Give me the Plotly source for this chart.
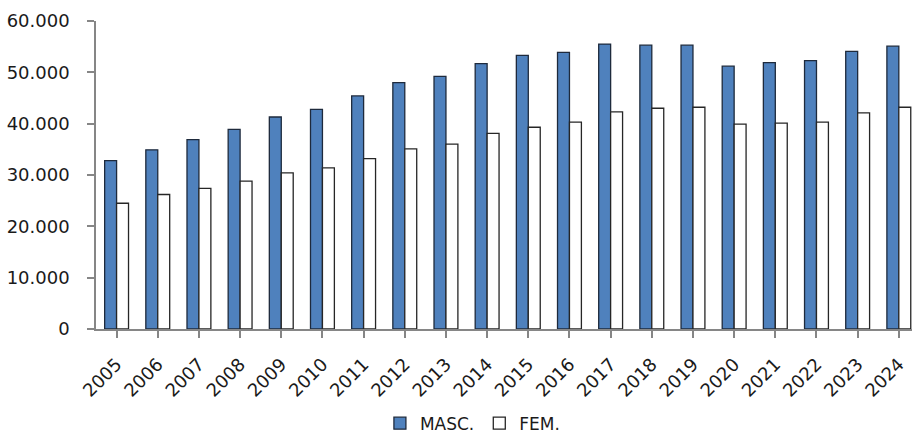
import plotly.graph_objects as go

years = ["2005", "2006", "2007", "2008", "2009", "2010", "2011", "2012", "2013", "2014",
         "2015", "2016", "2017", "2018", "2019", "2020", "2021", "2022", "2023", "2024"]
masc = [32800, 34900, 36900, 38900, 41300, 42800, 45400, 48000, 49200, 51700,
        53300, 53900, 55500, 55300, 55300, 51200, 51900, 52300, 54100, 55100]
fem = [24500, 26200, 27400, 28800, 30400, 31400, 33200, 35100, 36000, 38100,
       39300, 40300, 42300, 43000, 43200, 39900, 40100, 40300, 42100, 43200]
y_ticks = [0, 10000, 20000, 30000, 40000, 50000, 60000]

FONT = "DejaVu Sans, Liberation Sans, sans-serif"

fig = go.Figure()
fig.add_trace(go.Bar(
    x=list(range(len(years))), y=masc, name="MASC.",
    marker=dict(color="#4F81BD", line=dict(color="#1e2a3c", width=1.3)),
))
fig.add_trace(go.Bar(
    x=list(range(len(years))), y=fem, name="FEM.",
    marker=dict(color="#FFFFFF", line=dict(color="#262626", width=1.3)),
))

fig.update_layout(
    width=912, height=434,
    margin=dict(l=96, r=0, t=21, b=105),
    paper_bgcolor="white", plot_bgcolor="white",
    barmode="group", bargap=0.42, bargroupgap=0,
    separators=",.",
    font=dict(family=FONT, color="#1a1a1a"),
    showlegend=True,
    legend=dict(
        orientation="h", xref="container", yref="container",
        x=0.518, xanchor="center", y=0.024, yanchor="middle",
        font=dict(size=17, family=FONT, color="#1a1a1a"),
        traceorder="normal", itemwidth=30,
    ),
)
fig.update_xaxes(
    range=[-0.5, 19.32],
    tickmode="array", tickvals=list(range(len(years))), ticktext=years,
    tickangle=-45, tickfont=dict(size=18, family=FONT, color="#1a1a1a"),
    ticklabelstandoff=9,
    showline=True, linecolor="#868686", linewidth=1.5,
    ticks="outside", ticklen=7, tickcolor="#868686", tickwidth=1.5,
    tickson="boundaries", showgrid=False, zeroline=False, fixedrange=True,
)
fig.update_yaxes(
    range=[0, 60000], tickmode="array", tickvals=y_ticks,
    tickformat=",.0f",
    tickfont=dict(size=18, family=FONT, color="#1a1a1a"),
    ticklabelstandoff=14,
    showline=True, linecolor="#868686", linewidth=1.5,
    ticks="outside", ticklen=7, tickcolor="#868686", tickwidth=1.5,
    showgrid=False, zeroline=False, fixedrange=True,
)

fig.write_html(
    "out.html",
    config={"displayModeBar": False},
    post_script="document.body.style.margin='0';document.body.style.overflow='hidden';",
)
